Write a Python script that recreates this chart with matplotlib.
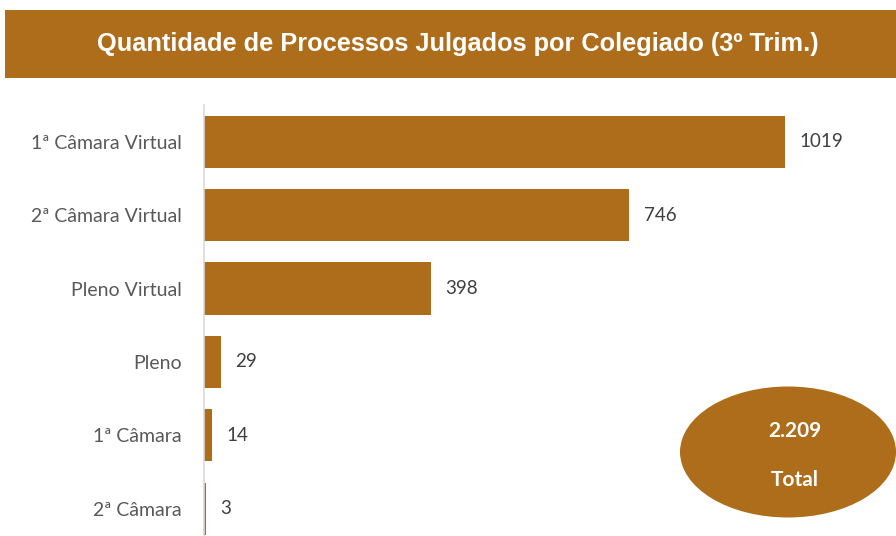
import matplotlib
matplotlib.use("Agg")
import matplotlib.pyplot as plt
from matplotlib.patches import Ellipse, Rectangle

categories = ["1ª Câmara Virtual", "2ª Câmara Virtual", "Pleno Virtual", "Pleno", "1ª Câmara", "2ª Câmara"]
values = [1019, 746, 398, 29, 14, 3]
total_label = "2.209"
title = "Quantidade de Processos Julgados por Colegiado (3º Trim.)"

BROWN = "#AE6D1B"
W, H = 896, 536
fig = plt.figure(figsize=(W / 100, H / 100), dpi=100)
fig.patch.set_facecolor("white")

# title bar
fig.patches.append(Rectangle((5 / W, 1 - 78 / H), (W - 5) / W, 68 / H,
                             transform=fig.transFigure, facecolor=BROWN,
                             edgecolor="none", zorder=0))
fig.text(458 / W, 1 - 44 / H, title, color="white", fontsize=18.3,
         fontweight="bold", family="Liberation Sans", ha="center", va="center")

ax = fig.add_axes([204 / W, 0, (888 - 204) / W, (536 - 105) / H])
y = list(range(len(categories)))
ax.barh(y, values, height=0.71, color=BROWN)
ax.set_ylim(5.37, -0.5)
ax.set_xlim(0, 1200)
ax.set_yticks(y)
ax.set_yticklabels(categories, family="Lato", fontsize=14, color="#595959")
ax.tick_params(axis="y", length=0, pad=16)
ax.set_xticks([])
for s in ["top", "right", "bottom"]:
    ax.spines[s].set_visible(False)
ax.spines["left"].set_color("#D9D9D9")
ax.spines["left"].set_linewidth(1.2)
for yi, v in zip(y, values):
    ax.text(v + 26, yi, str(v), va="center", ha="left", family="Lato",
            fontsize=13.5, color="#404040")

fig.patches.append(Ellipse((788 / W, 1 - 452 / H), 216 / W, 131 / H,
                           transform=fig.transFigure, facecolor=BROWN,
                           edgecolor="none", zorder=5))
fig.text(795 / W, 1 - 431 / H, total_label, color="white", fontsize=15,
         fontweight="bold", family="Lato", ha="center", va="center", zorder=6)
fig.text(795 / W, 1 - 480 / H, "Total", color="white", fontsize=15,
         fontweight="bold", family="Lato", ha="center", va="center", zorder=6)

fig.savefig("out.png", dpi=100, facecolor="white")
